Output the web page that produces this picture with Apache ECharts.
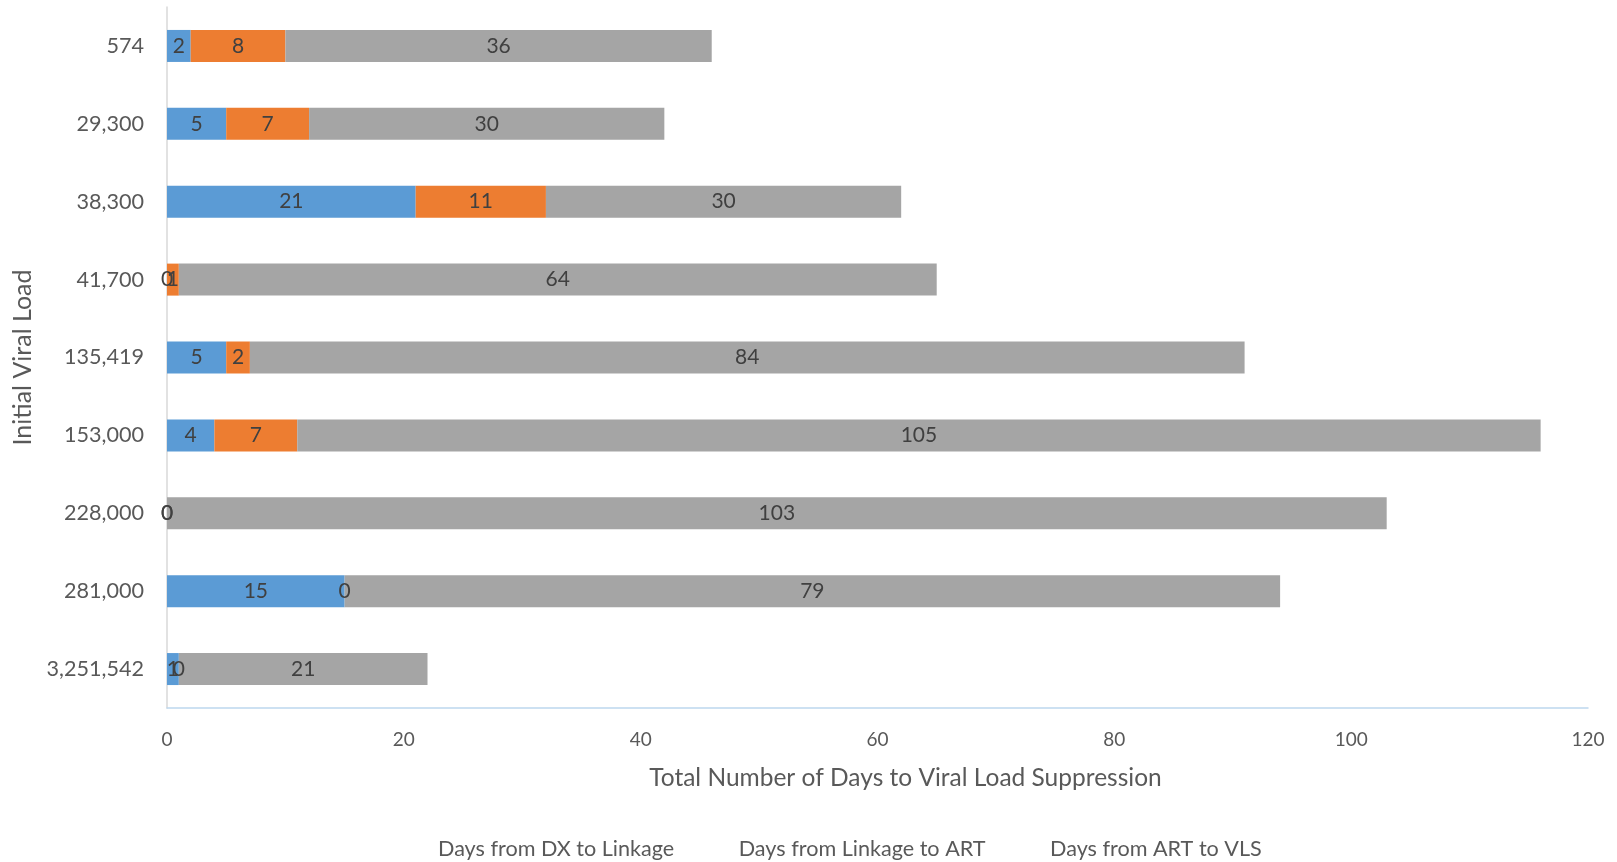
<!DOCTYPE html>
<html>
<head>
<meta charset="utf-8">
<script src="https://cdn.jsdelivr.net/npm/echarts@6/dist/echarts.min.js"></script>
<style>html,body{margin:0;padding:0;background:#fff}#c{width:1617px;height:862px}</style>
</head>
<body>
<div id="c"></div>
<script>
const categories = ['574','29,300','38,300','41,700','135,419','153,000','228,000','281,000','3,251,542'];
const dxToLinkage = [2,5,21,0,5,4,0,15,1];
const linkageToArt = [8,7,11,1,2,7,0,0,0];
const artToVls = [36,30,30,64,84,105,103,79,21];
const seriesNames = ['Days from DX to Linkage','Days from Linkage to ART','Days from ART to VLS'];
const colors = ['#5B9BD5','#ED7D31','#A5A5A5'];
const xTicks = {min:0,max:120,interval:20};

const font = 'Lato, "Open Sans", sans-serif';
const chart = echarts.init(document.getElementById('c'));
const mk = (name, data, color) => ({
  name, type:'bar', stack:'total', data, barWidth:32,
  itemStyle:{color},
  label:{show:true, position:'inside', color:'#404040', fontSize:21, fontFamily:font},
  emphasis:{disabled:true}
});
chart.setOption({
  animation:false,
  textStyle:{fontFamily:font},
  grid:{left:167,right:29,top:7,bottom:154,containLabel:false},
  legend:{
    bottom:-3, left:414, itemWidth:14, itemHeight:14, itemGap:45.5,
    itemStyle:{opacity:0},
    textStyle:{color:'#595959',fontSize:21.6,fontFamily:font},
    data:seriesNames
  },
  xAxis:{
    type:'value', min:xTicks.min, max:xTicks.max, interval:xTicks.interval,
    name:'Total Number of Days to Viral Load Suppression', nameLocation:'middle', nameGap:58,
    nameTextStyle:{color:'#595959',fontSize:24.5,fontFamily:font,padding:[0,0,0,56]},
    axisLine:{show:true,lineStyle:{color:'#BDD7EE',width:1.5}},
    axisTick:{show:false},
    splitLine:{show:false},
    axisLabel:{color:'#595959',fontSize:19,margin:22,fontFamily:font}
  },
  yAxis:{
    type:'category', data:categories, inverse:true,
    name:'Initial Viral Load', nameLocation:'middle', nameGap:131, nameRotate:90,
    nameTextStyle:{color:'#595959',fontSize:25,fontFamily:font},
    axisLine:{show:true,lineStyle:{color:'#D9D9D9',width:1.5}},
    axisTick:{show:false},
    axisLabel:{color:'#595959',fontSize:21.6,margin:23,fontFamily:font}
  },
  series:[
    mk(seriesNames[0], dxToLinkage, colors[0]),
    mk(seriesNames[1], linkageToArt, colors[1]),
    mk(seriesNames[2], artToVls, colors[2])
  ]
});
</script>
</body>
</html>
